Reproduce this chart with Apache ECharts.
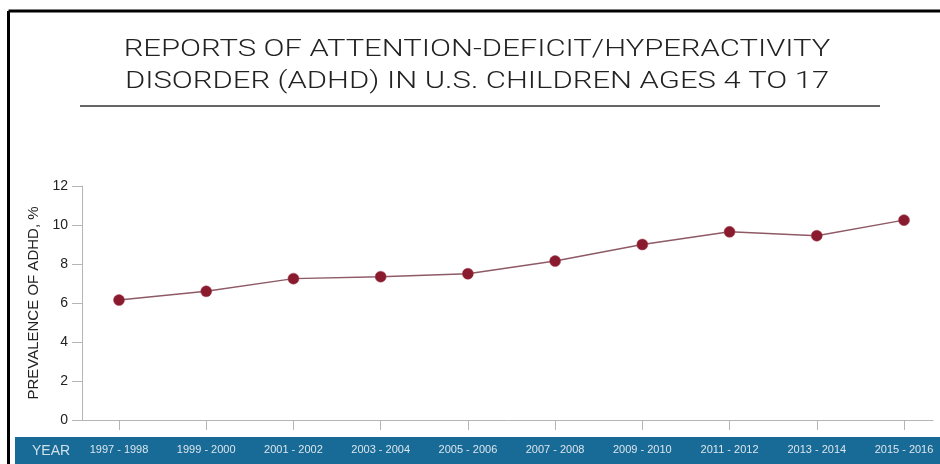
<!DOCTYPE html>
<html><head><meta charset="utf-8">
<script src="https://cdn.jsdelivr.net/npm/echarts@6/dist/echarts.min.js"></script>
<style>html,body{margin:0;padding:0;background:#fff}#c{width:940px;height:464px}</style>
</head><body><div id="c"></div>
<script>
const titleLines = ['REPORTS OF ATTENTION-DEFICIT/HYPERACTIVITY', 'DISORDER (ADHD) IN U.S. CHILDREN AGES 4 TO 17'];
const categories = ['1997 - 1998','1999 - 2000','2001 - 2002','2003 - 2004','2005 - 2006','2007 - 2008','2009 - 2010','2011 - 2012','2013 - 2014','2015 - 2016'];
const prevalence = [6.15, 6.6, 7.25, 7.35, 7.5, 8.15, 9.0, 9.65, 9.45, 10.25];
const yTicks = [0, 2, 4, 6, 8, 10, 12];
const yAxisTitle = 'PREVALENCE OF ADHD, %';
const xAxisTitle = 'YEAR';

const chart = echarts.init(document.getElementById('c'), null, {renderer:'canvas'});
const sans = "'Liberation Sans',Arial,sans-serif";
chart.setOption({
  animation:false,
  backgroundColor:'#fff',
  graphic:[
    {type:'line', shape:{x1:8.5,y1:11,x2:940,y2:11}, style:{stroke:'#000',lineWidth:3}},
    {type:'line', shape:{x1:8.5,y1:11,x2:8.5,y2:464}, style:{stroke:'#000',lineWidth:3}},
    {type:'text', x:477, y:66, originX:0, originY:0, scaleX:1.29,
     style:{text:titleLines.join('\n'), fill:'#222', font:"300 24px Roboto,'Liberation Sans',sans-serif",
            textAlign:'center', textVerticalAlign:'middle', lineHeight:32}},
    {type:'line', shape:{x1:80,y1:106,x2:880,y2:106}, style:{stroke:'#333',lineWidth:1.5}},
    {type:'rect', shape:{x:15,y:437,width:925,height:27}, style:{fill:'#186b96'}, z:-1},
    {type:'text', x:32, y:451, style:{text:xAxisTitle, fill:'#cfe0ea', font:"14px "+sans, verticalAlign:'middle'}}
  ],
  grid:[
    {left:119, right:36, top:186, bottom:44},
    {left:82, right:7, top:186, bottom:44}
  ],
  xAxis:[
    {type:'category', gridIndex:0, data:categories, boundaryGap:false,
     axisLine:{show:false},
     axisTick:{show:true, alignWithLabel:true, length:10, lineStyle:{color:'#b5b5b5'}},
     axisLabel:{margin:24, color:'#dbe6ee', fontSize:11, fontFamily:sans, interval:0},
     splitLine:{show:false}},
    {type:'value', gridIndex:1, min:0, max:1,
     axisLine:{show:true, lineStyle:{color:'#b5b5b5', width:1}},
     axisTick:{show:false}, axisLabel:{show:false}, splitLine:{show:false}}
  ],
  yAxis:[
    {type:'value', gridIndex:0, min:0, max:12, interval:2, show:false},
    {type:'value', gridIndex:1, min:yTicks[0], max:yTicks[yTicks.length-1], interval:2,
     axisLine:{show:true, lineStyle:{color:'#b5b5b5'}},
     axisTick:{show:true, length:10, lineStyle:{color:'#b5b5b5'}},
     axisLabel:{margin:14, color:'#222', fontSize:14, fontFamily:sans},
     splitLine:{show:false},
     name:yAxisTitle, nameLocation:'middle', nameGap:40,
     nameTextStyle:{fontSize:15, color:'#222', fontFamily:sans}}
  ],
  series:[{
    type:'line', xAxisIndex:0, yAxisIndex:0, data:prevalence,
    symbol:'circle', symbolSize:11,
    lineStyle:{color:'#8e5a66', width:1.5},
    itemStyle:{color:'#8a1a2d', borderColor:'#a04050', borderWidth:0.5}
  }]
});
</script></body></html>
